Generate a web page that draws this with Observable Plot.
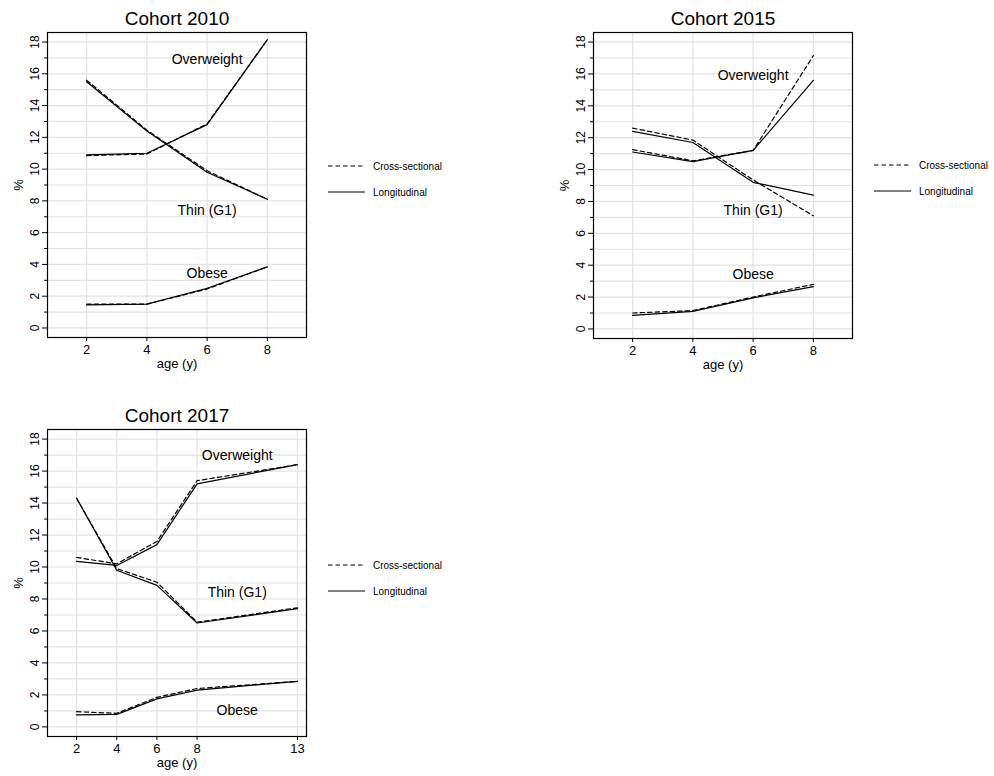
<!DOCTYPE html>
<html>
<head>
<meta charset="utf-8">
<script src="https://cdn.jsdelivr.net/npm/d3@7"></script>
<script src="https://cdn.jsdelivr.net/npm/@observablehq/plot@0.6"></script>
<style>
  html, body { margin: 0; padding: 0; background: #fff; }
  #root { position: relative; width: 994px; height: 776px; font-family: "Liberation Sans", Arial, sans-serif; }
  .panel { position: absolute; }
  .legend { position: absolute; font-size: 10px; color: #000; }
  .legend .row { display: flex; align-items: center; height: 26px; }
  .legend svg { margin-right: 8px; }
</style>
</head>
<body>
<div id="root"></div>
<script>
// ---- Data ----
const ages2010 = [2, 4, 6, 8];
const ages2015 = [2, 4, 6, 8];
const ages2017 = [2, 4, 6, 8, 13];

const ow2010Cross = [10.85, 10.95, 12.85, 18.15];
const ow2010Long  = [10.9, 11.0, 12.8, 18.15];
const thin2010Cross = [15.6, 12.45, 9.9, 8.1];
const thin2010Long  = [15.5, 12.4, 9.8, 8.1];
const ob2010Cross = [1.5, 1.5, 2.45, 3.85];
const ob2010Long  = [1.45, 1.5, 2.5, 3.85];

const ow2015Cross = [11.25, 10.55, 11.2, 17.15];
const ow2015Long  = [11.1, 10.5, 11.2, 15.6];
const thin2015Cross = [12.6, 11.85, 9.35, 7.1];
const thin2015Long  = [12.4, 11.7, 9.2, 8.4];
const ob2015Cross = [1.0, 1.15, 2.0, 2.8];
const ob2015Long  = [0.85, 1.1, 1.95, 2.65];

const ow2017Cross = [10.6, 10.2, 11.6, 15.4, 16.4];
const ow2017Long  = [10.35, 10.1, 11.4, 15.2, 16.4];
const thin2017Cross = [14.3, 9.9, 9.05, 6.55, 7.45];
const thin2017Long  = [14.3, 9.8, 8.85, 6.5, 7.4];
const ob2017Cross = [0.95, 0.85, 1.85, 2.4, 2.85];
const ob2017Long  = [0.75, 0.78, 1.75, 2.3, 2.85];

const categoryNames = ["Overweight", "Thin (G1)", "Obese"];
const labelX2010 = [6.0, 6.0, 6.0];
const labelY2010 = [16.9, 7.4, 3.4];
const labelX2015 = [6.0, 6.0, 6.0];
const labelY2015 = [15.9, 7.4, 3.4];
const labelX2017 = [10.0, 10.0, 10.0];
const labelY2017 = [17.0, 8.4, 1.0];

const xTicks2010 = [2, 4, 6, 8];
const xTicks2017 = [2, 4, 6, 8, 13];
const yMajorTicks = [0, 2, 4, 6, 8, 10, 12, 14, 16, 18];
const yMinorTicks = [1, 3, 5, 7, 9, 11, 13, 15, 17];
const yGrid = d3.range(0, 19);
const methods = ["Cross-sectional", "Longitudinal"];
const axisTitleX = "age (y)";
const axisTitleY = "%";

// ---- Build tables ----
function series(ages, arrays) {
  const rows = [];
  arrays.forEach((arr, i) => arr.forEach((v, j) => rows.push({age: ages[j], value: v, cat: categoryNames[i]})));
  return rows;
}
function labels(xs, ys) {
  return categoryNames.map((n, i) => ({x: xs[i], y: ys[i], text: n}));
}

const panels = [
  {title: "Cohort 2010", left: 0, top: 0, height: 380, mt: 32, mb: 43,
   xDomain: [0.7, 9.3], xTicks: xTicks2010,
   cross: series(ages2010, [ow2010Cross, thin2010Cross, ob2010Cross]),
   long: series(ages2010, [ow2010Long, thin2010Long, ob2010Long]),
   labels: labels(labelX2010, labelY2010), legend: {left: 328, top: 153}},
  {title: "Cohort 2015", left: 546, top: 0, height: 381, mt: 32, mb: 43,
   xDomain: [0.7, 9.3], xTicks: xTicks2010,
   cross: series(ages2015, [ow2015Cross, thin2015Cross, ob2015Cross]),
   long: series(ages2015, [ow2015Long, thin2015Long, ob2015Long]),
   labels: labels(labelX2015, labelY2015), legend: {left: 874, top: 152}},
  {title: "Cohort 2017", left: 0, top: 397, height: 379, mt: 32, mb: 40,
   xDomain: [0.55, 13.45], xTicks: xTicks2017,
   cross: series(ages2017, [ow2017Cross, thin2017Cross, ob2017Cross]),
   long: series(ages2017, [ow2017Long, thin2017Long, ob2017Long]),
   labels: labels(labelX2017, labelY2017), legend: {left: 328, top: 552}}
];

const root = document.getElementById("root");
const FONT = "Liberation Sans, Arial, sans-serif";

for (const p of panels) {
  const chart = Plot.plot({
    width: 320, height: p.height,
    marginLeft: 47, marginRight: 14, marginTop: p.mt, marginBottom: p.mb,
    style: {fontFamily: FONT, fontSize: "12px", color: "#000", background: "transparent", overflow: "visible"},
    x: {domain: p.xDomain, label: null},
    y: {domain: [-0.6, 18.6], label: null},
    marks: [
      Plot.gridY(yGrid, {stroke: "#e2e2e2", strokeOpacity: 1, strokeWidth: 1.2}),
      Plot.gridX(p.xTicks, {stroke: "#e2e2e2", strokeOpacity: 1, strokeWidth: 1.2}),
      Plot.line(p.cross, {x: "age", y: "value", z: "cat", stroke: "#000", strokeWidth: 1.2, strokeDasharray: "4.5,3"}),
      Plot.line(p.long, {x: "age", y: "value", z: "cat", stroke: "#000", strokeWidth: 1.2}),
      Plot.text(p.labels, {x: "x", y: "y", text: "text", fontSize: 14, fill: "#000"}),
      Plot.axisY(yMajorTicks, {tickSize: 5, tickRotate: -90, tickPadding: 4, label: null, fontSize: 12}),
      Plot.axisY(yMinorTicks, {tickSize: 3, tickFormat: () => "", label: null}),
      Plot.axisX(p.xTicks, {tickSize: 4, tickPadding: 3, label: null, fontSize: 13}),
      Plot.frame({stroke: "#000", strokeWidth: 1.2}),
      Plot.text([axisTitleY], {text: d => d, frameAnchor: "left", dx: -29, rotate: -90, textAnchor: "middle", lineAnchor: "middle", fontSize: 13, fill: "#000"}),
      Plot.text([axisTitleX], {text: d => d, frameAnchor: "bottom", dy: 26, textAnchor: "middle", lineAnchor: "middle", fontSize: 13, fill: "#000"}),
      Plot.text([p.title], {text: d => d, frameAnchor: "top", dy: -14, textAnchor: "middle", lineAnchor: "middle", fontSize: 19, fill: "#000"})
    ]
  });
  const wrap = document.createElement("div");
  wrap.className = "panel";
  wrap.style.left = p.left + "px";
  wrap.style.top = p.top + "px";
  wrap.appendChild(chart);
  root.appendChild(wrap);

  const lg = document.createElement("div");
  lg.className = "legend";
  lg.style.left = p.legend.left + "px";
  lg.style.top = p.legend.top + "px";
  methods.forEach((m, i) => {
    const row = document.createElement("div");
    row.className = "row";
    row.innerHTML = `<svg width="37" height="4"><line x1="0" y1="2" x2="37" y2="2" stroke="#000" stroke-width="1.2" ${i === 0 ? 'stroke-dasharray="4.5,3"' : ''}/></svg><span>${m}</span>`;
    lg.appendChild(row);
  });
  root.appendChild(lg);
}
</script>
</body>
</html>
